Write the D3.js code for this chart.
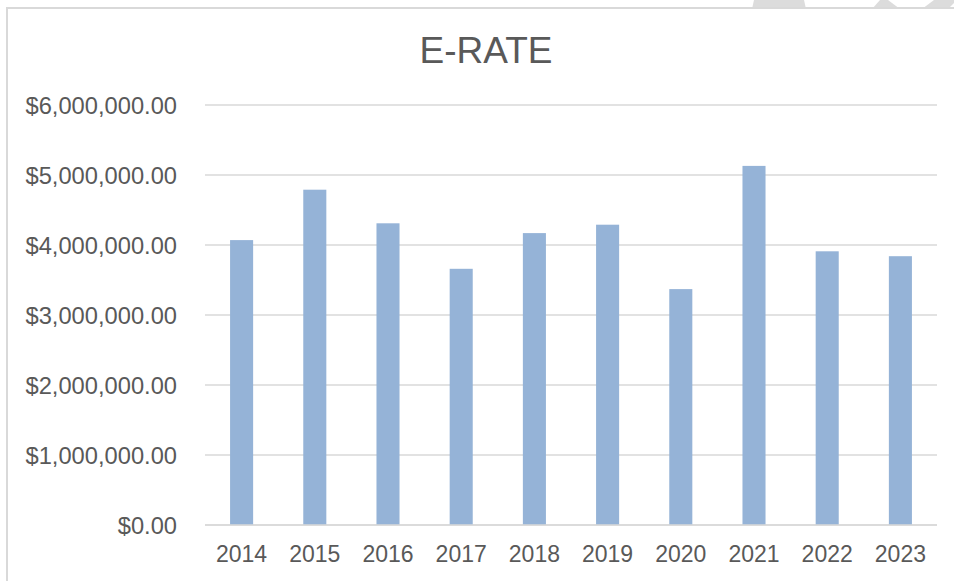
<!DOCTYPE html>
<head>
  <meta charset="utf-8">
  <style>
    body { margin: 0; background: #fff; }
    svg { display: block; font-family: "Liberation Sans", Arial, sans-serif; }
    .grid line { stroke: #d9d9d9; stroke-width: 1.5px; }
    .bar { fill: #95b3d7; }
    .lbl { fill: #595959; font-size: 23px; }
    .ylbl { font-size: 23.7px; }
  </style>
</head>
<body>
  <svg></svg>
  <script src="https://d3js.org/d3.v7.min.js"></script>
  <script>
    // E-RATE amounts
    let years = ['2014', '2015', '2016', '2017', '2018', '2019', '2020', '2021', '2022', '2023'];
    let amounts = [4070000, 4790000, 4310000, 3660000, 4170000, 4290000, 3370000, 5130000, 3910000, 3840000];
    let yTicks = [0, 1000000, 2000000, 3000000, 4000000, 5000000, 6000000];

    let width = 954, height = 581;
    let svg = d3.select('svg').attr('width', width).attr('height', height);

    // watermark bits peeking above the chart box
    let wm = svg.append('g').attr('fill', '#dcdcdc');
    wm.append('path').attr('d', 'M754,0 L804,0 L806,9 L752,9 Z');
    wm.append('path').attr('d', 'M872,9 L880,0 L888,0 L900,9 Z');
    wm.append('path').attr('d', 'M922,9 L934,0 L954,0 L954,3 L948,9 Z');

    // chart border
    svg.append('rect')
        .attr('x', 7).attr('y', 8)
        .attr('width', 960).attr('height', 600)
        .attr('fill', '#fff')
        .attr('stroke', '#d9d9d9')
        .attr('stroke-width', 2);

    let x = d3.scaleBand().domain(years).range([205, 937]).paddingInner(0.685).paddingOuter(0.3425);
    let y = d3.scaleLinear().domain([0, 6000000]).range([525, 105]);
    let fmt = d3.format(',.2f');

    let grid = svg.append('g').classed('grid', true);
    grid.selectAll('line')
        .data(yTicks)
        .enter().append('line')
        .attr('x1', 205).attr('x2', 937)
        .attr('y1', function(d) { return y(d) })
        .attr('y2', function(d) { return y(d) });

    svg.append('g').selectAll('.ylbl')
        .data(yTicks)
        .enter().append('text')
        .classed('lbl ylbl', true)
        .attr('x', 177)
        .attr('y', function(d) { return y(d) })
        .attr('dy', '0.36em')
        .attr('text-anchor', 'end')
        .text(function(d) { return '$' + fmt(d) });

    svg.append('g').selectAll('.bar')
        .data(amounts)
        .enter().append('rect')
        .classed('bar', true)
        .attr('x', function(d, i) { return x(years[i]) })
        .attr('width', x.bandwidth())
        .attr('y', function(d) { return y(d) })
        .attr('height', function(d) { return y(0) - y(d) });

    // baseline drawn over bars
    svg.append('line')
        .attr('x1', 205).attr('x2', 937)
        .attr('y1', y(0)).attr('y2', y(0))
        .attr('stroke', '#d9d9d9').attr('stroke-width', 1.5);

    svg.append('g').selectAll('.xlbl')
        .data(years)
        .enter().append('text')
        .classed('lbl', true)
        .attr('x', function(d) { return x(d) + x.bandwidth() / 2 })
        .attr('y', 562)
        .attr('text-anchor', 'middle')
        .text(function(d) { return d });

    svg.append('text')
        .attr('x', 486)
        .attr('y', 63)
        .attr('text-anchor', 'middle')
        .attr('fill', '#595959')
        .style('font-size', '37px')
        .text('E-RATE');
  </script>
</body>
